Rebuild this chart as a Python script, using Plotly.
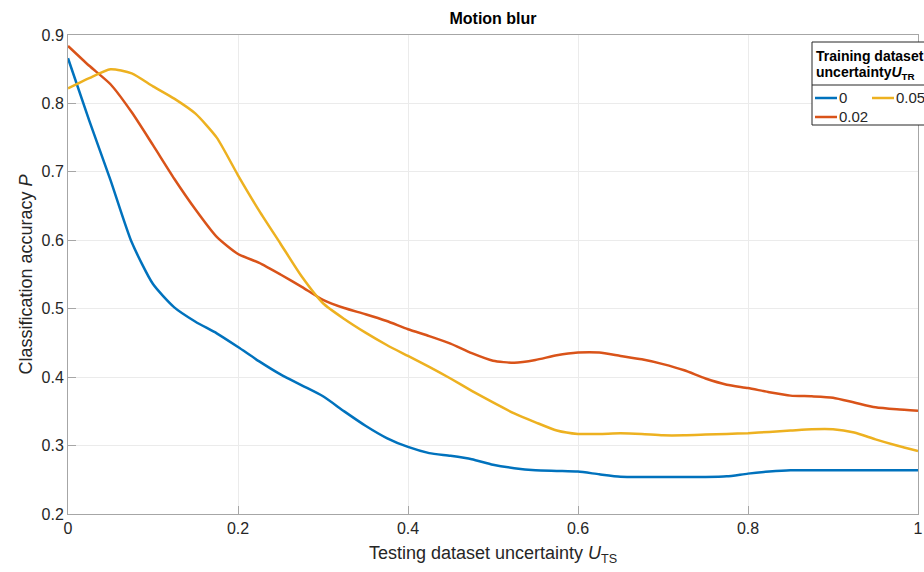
import plotly.graph_objects as go

x_vals = [0.0, 0.025, 0.05, 0.075, 0.1, 0.125, 0.15, 0.175, 0.2, 0.225,
          0.25, 0.275, 0.3, 0.325, 0.35, 0.375, 0.4, 0.425, 0.45, 0.475,
          0.5, 0.525, 0.55, 0.575, 0.6, 0.625, 0.65, 0.675, 0.7, 0.725,
          0.75, 0.775, 0.8, 0.825, 0.85, 0.875, 0.9, 0.925, 0.95, 0.975, 1.0]

acc_0 = [0.866, 0.775, 0.688, 0.597, 0.536, 0.502, 0.481, 0.464, 0.444, 0.423,
         0.404, 0.388, 0.372, 0.350, 0.329, 0.311, 0.298, 0.289, 0.285, 0.280,
         0.272, 0.267, 0.264, 0.263, 0.262, 0.258, 0.2545, 0.254, 0.254, 0.254,
         0.254, 0.255, 0.259, 0.262, 0.264, 0.264, 0.264, 0.264, 0.264, 0.264, 0.264]

acc_002 = [0.884, 0.855, 0.828, 0.787, 0.739, 0.690, 0.645, 0.605, 0.580, 0.567,
           0.550, 0.532, 0.513, 0.501, 0.492, 0.482, 0.470, 0.460, 0.449, 0.435,
           0.424, 0.421, 0.425, 0.432, 0.436, 0.436, 0.431, 0.426, 0.419, 0.410,
           0.398, 0.389, 0.384, 0.378, 0.373, 0.372, 0.370, 0.363, 0.356, 0.353, 0.351]

acc_005 = [0.822, 0.837, 0.850, 0.844, 0.825, 0.807, 0.785, 0.750, 0.695, 0.643,
           0.595, 0.547, 0.508, 0.485, 0.465, 0.447, 0.431, 0.415, 0.398, 0.380,
           0.363, 0.347, 0.334, 0.322, 0.317, 0.317, 0.318, 0.317, 0.315, 0.315,
           0.316, 0.317, 0.318, 0.320, 0.322, 0.324, 0.324, 0.319, 0.309, 0.300, 0.292]

series_names = ["0", "0.02", "0.05"]
series_colors = ["#0072BD", "#D95319", "#EDB120"]
series_values = [acc_0, acc_002, acc_005]

x_ticks = [0, 0.2, 0.4, 0.6, 0.8, 1]
y_ticks = [0.2, 0.3, 0.4, 0.5, 0.6, 0.7, 0.8, 0.9]

FONT = "Liberation Sans, Arial, Helvetica, sans-serif"
TXT = "#262626"

# plot-area geometry in pixels (for placing the legend box)
W, H = 924, 572
L, R, T, B = 68, 6, 35, 58
PW, PH = W - L - R, H - T - B


def px(xp):
    return (xp - L) / PW


def py(yp):
    return (H - B - yp) / PH


fig = go.Figure()
for name, color, vals in zip(series_names, series_colors, series_values):
    fig.add_trace(go.Scatter(x=x_vals, y=vals, mode="lines", name=name,
                             line=dict(color=color, width=2.5, shape="spline", smoothing=0.6),
                             showlegend=False))

axis_common = dict(
    showgrid=True, gridcolor="#ebebeb", gridwidth=1,
    showline=True, linecolor="#a6a6a6", linewidth=1, mirror=True,
    ticks="inside", ticklen=8, tickcolor="#a6a6a6", tickwidth=1,
    zeroline=False,
    tickfont=dict(family=FONT, size=16, color=TXT),
)

# legend drawn as a boxed key in the upper right (partly cut by the figure edge)
legend_items = [  # (series index, sample x-start px, row y px)
    (0, 815, 98),
    (2, 872, 98),
    (1, 815, 117),
]
shapes = [
    dict(type="rect", xref="paper", yref="paper",
         x0=px(812), x1=px(950), y0=py(125), y1=py(42),
         fillcolor="white", line=dict(color="#262626", width=1), layer="above"),
    dict(type="line", xref="paper", yref="paper",
         x0=px(812), x1=px(950), y0=py(85), y1=py(85),
         line=dict(color="#262626", width=1), layer="above"),
]
annotations = [
    dict(text="<b>Training dataset</b>", xref="paper", yref="paper",
         x=px(814), y=py(56), xanchor="left", yanchor="middle", showarrow=False,
         font=dict(family=FONT, size=14, color="#000000")),
    dict(text="<b>uncertainty<i>U</i><sub>TR</sub></b>", xref="paper", yref="paper",
         x=px(814), y=py(73), xanchor="left", yanchor="middle", showarrow=False,
         font=dict(family=FONT, size=14, color="#000000")),
]
for idx, x0, yr in legend_items:
    shapes.append(dict(type="line", xref="paper", yref="paper",
                       x0=px(x0), x1=px(x0 + 22), y0=py(yr), y1=py(yr),
                       line=dict(color=series_colors[idx], width=2.5), layer="above"))
    annotations.append(dict(text=series_names[idx], xref="paper", yref="paper",
                            x=px(x0 + 22), y=py(yr), xanchor="left", yanchor="middle",
                            showarrow=False, font=dict(family=FONT, size=15, color=TXT)))

fig.update_layout(
    width=W, height=H,
    margin=dict(l=L, r=R, t=T, b=B, autoexpand=False),
    paper_bgcolor="white", plot_bgcolor="white",
    font=dict(family=FONT, color=TXT),
    showlegend=False,
    title=dict(text="<b>Motion blur</b>", x=(L + PW / 2) / W, xanchor="center",
               y=1 - 18 / H, yanchor="middle",
               font=dict(family=FONT, size=16, color="#000000")),
    xaxis=dict(range=[0, 1], tickvals=x_ticks, ticktext=[str(v) for v in x_ticks],
               title=dict(text="Testing dataset uncertainty <i>U</i><sub>TS</sub>",
                          font=dict(family=FONT, size=18, color=TXT), standoff=10),
               **axis_common),
    yaxis=dict(range=[0.2, 0.9], tickvals=y_ticks, ticktext=[str(v) for v in y_ticks],
               title=dict(text="Classification accuracy <i>P</i>",
                          font=dict(family=FONT, size=18, color=TXT), standoff=4),
               **axis_common),
    shapes=shapes,
    annotations=annotations,
)

fig.write_html("out.html")
